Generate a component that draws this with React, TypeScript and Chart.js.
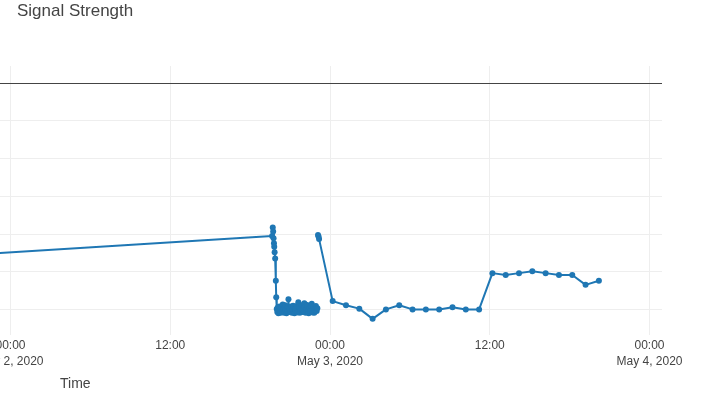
import { useEffect, useRef } from "react";
import { Chart, registerables } from "chart.js";

Chart.register(...registerables);

const titleText = "Signal Strength";
const xAxisTitle = "Time";

// hours since 2020-05-02 00:00
const timeHours: number[] = [
  -12.0,
  19.65, 19.70, 19.73, 19.76, 19.79, 19.81, 19.84, 19.88, 19.93, 19.96,
  20.00, 20.04, 20.08, 20.12, 20.16, 20.20, 20.25, 20.30, 20.35, 20.40,
  20.45, 20.50, 20.55, 20.60, 20.64, 20.68, 20.73, 20.78, 20.83, 20.88,
  20.93, 20.98, 21.03, 21.08, 21.13, 21.18, 21.23, 21.28, 21.33, 21.38,
  21.43, 21.50, 21.56, 21.62, 21.68, 21.74, 21.80, 21.86, 21.92, 21.98,
  22.04, 22.07, 22.10, 22.16, 22.22, 22.28, 22.34, 22.40, 22.46, 22.52,
  22.58, 22.63, 22.70, 22.76, 22.82, 22.88, 22.94, 23.00, 23.05,
  23.08,
  23.10, 23.14, 23.18,
  24.2, 25.2, 26.2, 27.2, 28.2, 29.2, 30.2, 31.2, 32.2, 33.2, 34.2, 35.2,
  36.2, 37.2, 38.2, 39.2, 40.2, 41.2, 42.2, 43.2, 44.2,
];

const signalDbm: (number | null)[] = [
  -47.4,
  -40.5, -38.2, -39.3, -41.1, -42.4, -43.3, -44.8, -46.4, -52.3, -56.7,
  -59.8, -60.6, -59.4, -60.9, -60.1, -59.1, -60.4, -60.8, -59.5, -60.5,
  -58.6, -59.9, -60.8, -59.2, -58.8, -60.2, -60.9, -59.4, -60.4, -57.2,
  -60.6, -59.6, -60.5, -59.1, -60.8, -60.0, -58.9, -60.5, -60.9, -59.7,
  -60.2, -59.0, -60.7, -58.0, -59.2, -60.8, -60.2, -58.8, -60.6, -59.8,
  -60.5, -58.3, -59.3, -60.8, -60.0, -58.7, -60.4, -60.9, -59.5, -60.4,
  -58.9, -58.4, -60.7, -59.2, -60.8, -60.1, -59.0, -60.3, -59.6,
  null,
  -40.2, -40.6, -41.3,
  -57.7, -58.8, -59.7, -62.4, -59.9, -58.8, -59.9, -59.9, -59.9, -59.3, -59.9, -59.9,
  -50.3, -50.8, -50.3, -49.8, -50.3, -50.8, -50.8, -53.4, -52.3,
];

const xTickHours = [0, 12, 24, 36, 48];
const xTickLabels: (string | string[])[] = [
  ["00:00", "May 2, 2020"],
  "12:00",
  ["00:00", "May 3, 2020"],
  "12:00",
  ["00:00", "May 4, 2020"],
];
const yTickValues = [-60, -50, -40, -30, -20, -10, 0];
const xRange = [-0.79, 48.94];
const yRange = [-66.67, 4.5];

const FONT = '"Liberation Sans", Arial, sans-serif';

export default function App() {
  const ref = useRef<HTMLCanvasElement>(null);

  useEffect(() => {
    if (!ref.current) return;
    Chart.defaults.font.family = FONT;
    const textPlugin = {
      id: "texts",
      afterDraw(chart: any) {
        const ctx = chart.ctx;
        ctx.save();
        ctx.fillStyle = "#444";
        ctx.textAlign = "left";
        ctx.textBaseline = "alphabetic";
        ctx.font = `17px ${FONT}`;
        ctx.fillText(titleText, 17, 16);
        ctx.font = `14px ${FONT}`;
        ctx.fillText(xAxisTitle, 60, 388);
        ctx.restore();
      },
    };
    const chart = new Chart(ref.current, {
      type: "line",
      data: {
        datasets: [
          {
            data: timeHours.map((t, i) => ({ x: t, y: signalDbm[i] })) as any,
            borderColor: "#1f77b4",
            backgroundColor: "#1f77b4",
            borderWidth: 2,
            borderJoinStyle: "round",
            borderCapStyle: "round",
            pointRadius: 3,
            pointBorderWidth: 0,
            pointHoverRadius: 3,
            tension: 0,
            spanGaps: false,
          },
        ],
      },
      options: {
        animation: false,
        responsive: false,
        events: [],
        layout: { autoPadding: false, padding: { top: 66, right: 41, left: 0, bottom: 0 } },
        plugins: { legend: { display: false }, tooltip: { enabled: false } },
        scales: {
          x: {
            type: "linear",
            min: xRange[0],
            max: xRange[1],
            afterBuildTicks: (a: any) => {
              a.ticks = xTickHours.map((v) => ({ value: v }));
            },
            afterFit: (s: any) => {
              s.height = 59;
              s.paddingLeft = 0;
              s.paddingRight = 0;
            },
            grid: { color: "#eee", drawTicks: false, lineWidth: 1 },
            border: { display: false },
            ticks: {
              autoSkip: false,
              maxRotation: 0,
              minRotation: 0,
              padding: 3,
              color: "#444",
              font: { size: 12, lineHeight: 16 / 12, family: FONT },
              callback: (v: any) => {
                const i = xTickHours.indexOf(Number(v));
                return i >= 0 ? xTickLabels[i] : "";
              },
            },
          },
          y: {
            type: "linear",
            min: yRange[0],
            max: yRange[1],
            afterBuildTicks: (a: any) => {
              a.ticks = yTickValues.map((v) => ({ value: v }));
            },
            afterFit: (s: any) => {
              s.width = 0;
              s.paddingTop = 0;
              s.paddingBottom = 0;
            },
            grid: {
              color: (c: any) => (c.tick && c.tick.value === 0 ? "#444" : "#eee"),
              drawTicks: false,
              lineWidth: 1,
            },
            border: { display: false },
            ticks: { display: false },
          },
        },
      },
      plugins: [textPlugin],
    });
    return () => chart.destroy();
  }, []);

  return (
    <div style={{ position: "absolute", left: 0, top: 0, width: 703, height: 394, background: "#fff" }}>
      <canvas ref={ref} width={703} height={394} style={{ display: "block" }} />
    </div>
  );
}
